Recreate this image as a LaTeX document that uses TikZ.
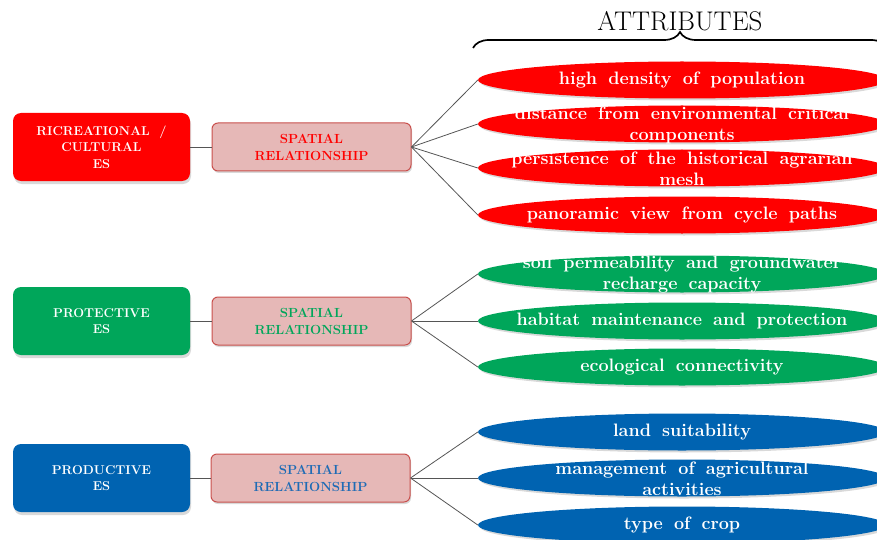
\documentclass[tikz,border=0pt]{standalone}
\usetikzlibrary{shapes.geometric,shadows,decorations.pathreplacing}
\definecolor{cred}{HTML}{FF0000}
\definecolor{cgreen}{HTML}{00A65A}
\definecolor{cblue}{HTML}{0063B1}
\definecolor{tblue}{HTML}{1F6BB5}
\definecolor{pinkf}{HTML}{E6B8B7}
\definecolor{pinkd}{HTML}{C9504D}
\definecolor{linkc}{HTML}{555555}
\newcommand{\attrfont}{\fontsize{18}{21}\selectfont\bfseries\spaceskip=0.62em plus 0.1em\relax}
\begin{document}
\begin{tikzpicture}[x=1pt,y=-1pt,
 esbox/.style={rounded corners=8pt, minimum width=177pt, minimum height=68pt, fill=#1, draw=none, text=white, inner sep=0pt,
   font=\fontsize{12.8}{16.5}\selectfont\bfseries, align=center, drop shadow={opacity=0.3,shadow xshift=1pt,shadow yshift=-3pt}},
 spbox/.style={rounded corners=6pt, minimum width=199pt, minimum height=48pt, fill=pinkf, draw=pinkd, line width=1pt, text=#1, inner sep=0pt,
   font=\fontsize{13.2}{17}\selectfont\bfseries, align=center, drop shadow={opacity=0.3,shadow xshift=1pt,shadow yshift=-2pt}},
 attr/.style={ellipse, minimum width=408pt, minimum height=37pt, inner sep=0pt, fill=#1, draw=none, drop shadow={opacity=0.3,shadow xshift=2pt,shadow yshift=-2pt}},
 atext/.style={text=white, font=\attrfont, align=center, inner sep=0pt},
 link/.style={draw=linkc, line width=0.8pt}]
\useasboundingbox (0,0) rectangle (877,540);

% title and brace
\node[font=\fontsize{27}{27}\selectfont] (title) at (680,21) {ATTRIBUTES};
\coordinate (bl) at (473,48);
\coordinate (br) at (887,48);
\draw[line width=1.7pt, decorate, decoration={brace, amplitude=16pt}] (bl) -- (br);

% left boxes
\node[esbox=cred] (es1) at (101.5,147) {RICREATIONAL \ /\\CULTURAL\\ES};
\node[esbox=cgreen] (es2) at (101.5,321) {PROTECTIVE\\ES};
\node[esbox=cblue] (es3) at (101.5,478) {PRODUCTIVE\\ES};

% spatial boxes
\node[spbox=cred] (sp1) at (311.5,147) {SPATIAL\\RELATIONSHIP};
\node[spbox=cgreen] (sp2) at (311.5,321) {SPATIAL\\RELATIONSHIP};
\node[spbox=tblue] (sp3) at (310.5,478) {SPATIAL\\RELATIONSHIP};

\draw[link] (es1) -- (sp1);
\draw[link] (es2) -- (sp2);
\draw[link] (es3) -- (sp3);

% ellipses red
\node[attr=cred] (r1) at (682,80) {};
\node[attr=cred] (r2) at (682,124) {};
\node[attr=cred] (r3) at (682,168) {};
\node[attr=cred] (r4) at (682,215) {};
\node[atext] (tr1) at (r1) {high density of population};
\node[atext] (tr2) at (682,125) {distance from environmental critical\\components};
\node[atext] (tr3) at (682,169) {persistence of the historical agrarian\\mesh};
\node[atext] (tr4) at (r4) {panoramic view from cycle paths};

% ellipses green
\node[attr=cgreen] (g1) at (682,274) {};
\node[attr=cgreen] (g2) at (682,321) {};
\node[attr=cgreen] (g3) at (682,367) {};
\node[atext] (tg1) at (682,275) {soil permeability and groundwater\\recharge capacity};
\node[atext] (tg2) at (g2) {habitat maintenance and protection};
\node[atext] (tg3) at (g3) {ecological connectivity};

% ellipses blue
\node[attr=cblue] (b1) at (682,432) {};
\node[attr=cblue] (b2) at (682,478) {};
\node[attr=cblue] (b3) at (682,525) {};
\node[atext] (tb1) at (b1) {land suitability};
\node[atext] (tb2) at (682,479) {management of agricultural\\activities};
\node[atext] (tb3) at (b3) {type of crop};

% fan links
\foreach \e in {r1,r2,r3,r4} \draw[link] (sp1.east) -- (\e.west);
\foreach \e in {g1,g2,g3} \draw[link] (sp2.east) -- (\e.west);
\foreach \e in {b1,b2,b3} \draw[link] (sp3.east) -- (\e.west);
\end{tikzpicture}
\end{document}
